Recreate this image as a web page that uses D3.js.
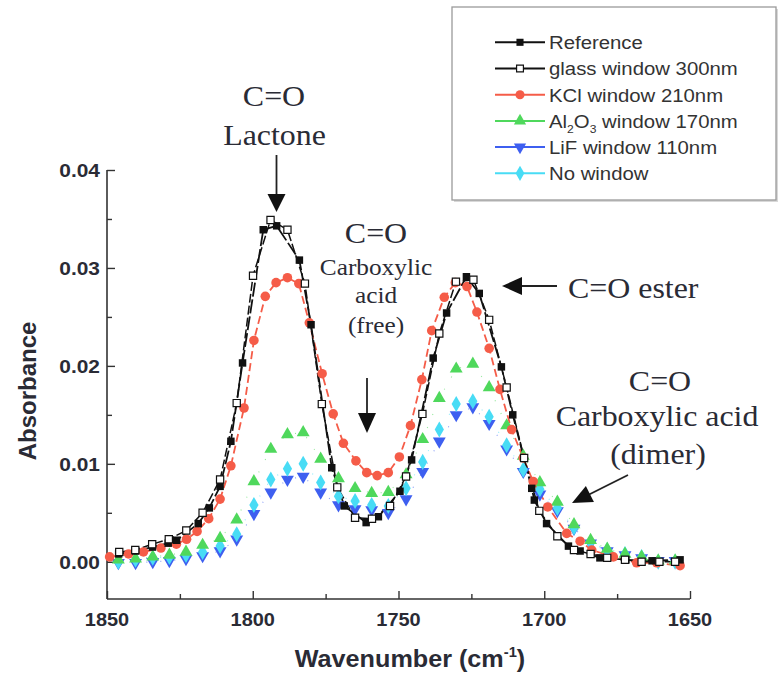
<!DOCTYPE html>
<html><head><meta charset="utf-8">
<script src="https://cdn.jsdelivr.net/npm/d3@7/dist/d3.min.js"></script>
<style>body{margin:0;background:#fff}</style>
</head><body>
<svg id="c" width="783" height="675"></svg>
<script>
// ---------------- data ----------------
const xTicks = [1850, 1800, 1750, 1700, 1650];
const xMinorTicks = [1825, 1775, 1725, 1675];
const yTicks = [0.00, 0.01, 0.02, 0.03, 0.04];
const yMinorTicks = [0.005, 0.015, 0.025, 0.035];
const seriesNames = ["Reference", "glass window 300nm", "KCl window 210nm", "Al2O3 window 170nm", "LiF window 110nm", "No window"];

const refWn  = [1846.0,1840.2,1834.4,1829.0,1826.1,1818.7,1814.9,1811.2,1807.5,1803.5,1796.4,1791.8,1784.0,1780.0,1772.9,1768.6,1761.1,1756.9,1749.5,1745.5,1738.1,1733.5,1726.7,1722.3,1714.7,1710.8,1704.3,1703.4,1699.2,1691.7,1687.7,1680.9,1672.0,1663.0,1653.4];
const refAbs = [0.0008,0.0011,0.0015,0.0019,0.0022,0.0039,0.0055,0.0077,0.0123,0.0203,0.0339,0.0343,0.0308,0.0242,0.0096,0.0057,0.0040,0.0046,0.0072,0.0104,0.0208,0.0254,0.0291,0.0274,0.0199,0.0150,0.0075,0.0063,0.0039,0.0016,0.0011,0.0004,0.0002,0.0001,0.0002];

const glassWn  = [1845.8,1840.3,1834.5,1828.8,1822.8,1817.2,1811.2,1805.5,1799.9,1793.9,1788.1,1782.1,1776.3,1771.0,1764.9,1759.1,1752.9,1747.4,1741.8,1736.0,1730.3,1724.3,1718.9,1712.9,1706.9,1701.7,1695.5,1689.8,1684.1,1678.4,1672.3,1666.6,1660.5,1655.1];
const glassAbs = [0.0010,0.0012,0.0018,0.0023,0.0032,0.0050,0.0084,0.0162,0.0292,0.0349,0.0339,0.0284,0.0161,0.0076,0.0045,0.0044,0.0057,0.0087,0.0151,0.0233,0.0286,0.0288,0.0247,0.0178,0.0106,0.0052,0.0026,0.0012,0.0008,0.0004,0.0002,0.0000,0.0000,0.0000];

const kclWn  = [1849.1,1842.6,1837.5,1831.5,1826.2,1822.7,1819.1,1815.1,1811.2,1807.5,1803.0,1799.6,1795.7,1792.0,1788.1,1784.2,1780.6,1776.2,1772.4,1768.9,1764.6,1760.9,1757.3,1753.5,1749.7,1745.9,1742.0,1738.6,1734.3,1730.5,1726.5,1723.1,1718.9,1715.2,1711.2,1707.2,1703.8,1698.8,1692.3,1687.7,1683.7,1676.3,1668.3,1661.4,1653.4];
const kclAbs = [0.0005,0.0008,0.0010,0.0014,0.0018,0.0023,0.0031,0.0044,0.0064,0.0098,0.0157,0.0226,0.0271,0.0285,0.0290,0.0284,0.0244,0.0192,0.0151,0.0121,0.0103,0.0091,0.0088,0.0091,0.0107,0.0139,0.0186,0.0236,0.0270,0.0285,0.0281,0.0255,0.0218,0.0176,0.0135,0.0106,0.0082,0.0056,0.0029,0.0021,0.0012,0.0005,-0.0001,-0.0001,-0.0004];

const gridWn = [1846.1,1840.2,1834.3,1828.6,1822.9,1817.2,1811.2,1805.5,1799.6,1793.8,1788.1,1782.7,1776.7,1770.6,1764.9,1759.2,1753.5,1747.4,1741.7,1736.0,1730.2,1724.5,1718.9,1712.9,1707.2,1701.5,1695.5,1689.8,1684.1,1678.4,1672.3,1666.6,1660.9,1655.1];
const al2o3Abs = [0.0002,0.0003,0.0005,0.0007,0.0010,0.0017,0.0024,0.0043,0.0082,0.0115,0.0130,0.0132,0.0105,0.0085,0.0075,0.0070,0.0071,0.0089,0.0125,0.0167,0.0197,0.0202,0.0178,0.0139,0.0108,0.0081,0.0061,0.0038,0.0022,0.0013,0.0008,0.0005,0.0001,0.0001];
const lifAbs   = [-0.0001,-0.0001,0.0000,0.0001,0.0003,0.0006,0.0011,0.0023,0.0049,0.0071,0.0084,0.0087,0.0071,0.0058,0.0054,0.0053,0.0050,0.0064,0.0092,0.0123,0.0150,0.0158,0.0141,0.0115,0.0092,0.0069,0.0052,0.0034,0.0019,0.0011,0.0007,0.0004,0.0001,0.0001];
const noWinAbs = [0.0000,0.0002,0.0004,0.0005,0.0007,0.0010,0.0016,0.0028,0.0058,0.0084,0.0095,0.0100,0.0081,0.0067,0.0062,0.0058,0.0057,0.0075,0.0102,0.0135,0.0161,0.0164,0.0148,0.0119,0.0094,0.0074,0.0055,0.0035,0.0020,0.0012,0.0008,0.0005,0.0000,0.0000];

// ---------------- styles ----------------
const styles = {
  "Reference":          {color:"#111", fill:"#111", symbol:d3.symbolSquare, size:56, rot:0, dash:"14,3", lw:1.8, op:1},
  "glass window 300nm": {color:"#111", fill:"#fff", symbol:d3.symbolSquare, size:52, rot:0, dash:"9,3", lw:1.5, op:1},
  "KCl window 210nm":   {color:"#f55c48", fill:"#f55c48", symbol:d3.symbolCircle, size:72, rot:0, dash:"8,4", lw:1.8, op:1},
  "Al2O3 window 170nm": {color:"#4fd85c", fill:"#4fd85c", symbol:d3.symbolTriangle, size:72, rot:0, dash:"1,13", lw:1.1, op:0.6},
  "LiF window 110nm":   {color:"#3e5ff0", fill:"#3e5ff0", symbol:d3.symbolTriangle, size:72, rot:180, dash:"1,13", lw:1.1, op:0.6},
  "No window":          {color:"#48dcf5", fill:"#48dcf5", symbol:d3.symbolDiamond, size:74, rot:0, dash:"1,13", lw:1.1, op:0.6}
};

const series = [
  {name:seriesNames[4], wn:gridWn, abs:lifAbs},
  {name:seriesNames[5], wn:gridWn, abs:noWinAbs},
  {name:seriesNames[3], wn:gridWn, abs:al2o3Abs},
  {name:seriesNames[2], wn:kclWn, abs:kclAbs},
  {name:seriesNames[0], wn:refWn, abs:refAbs},
  {name:seriesNames[1], wn:glassWn, abs:glassAbs}
];

// ---------------- layout ----------------
const svg = d3.select("#c");
const pLeft = 107, pRight = 690, pTop = 170, pBottom = 599;
const x = d3.scaleLinear().domain([1850, 1650]).range([pLeft, pRight]);
const y = d3.scaleLinear().domain([-0.0038, 0.04]).range([pBottom, pTop]);
const axisColor = "#333";
const textColor = "#2a2b35";

function stext(g, str, tx, ty, opts) {
  const t = g.append("text")
    .attr("transform", `translate(${tx},${ty})` + (opts.rot ? ` rotate(${opts.rot})` : "") + ` scale(${opts.k || 1},1)`)
    .attr("text-anchor", opts.anchor || "start")
    .style("font-family", opts.family || "'Liberation Sans', Arial, sans-serif")
    .style("font-size", opts.size + "px")
    .style("font-weight", opts.weight || "normal")
    .attr("fill", opts.fill || textColor)
    .text(str);
  return t;
}

// Axes
const axes = svg.append("g");
const xAxis = d3.axisBottom(x).tickValues(xTicks).tickSize(-8).tickFormat("");
const yAxis = d3.axisLeft(y).tickValues(yTicks).tickSize(-8).tickFormat("");
const gx = axes.append("g").attr("transform", `translate(0,${pBottom})`).call(xAxis);
gx.select(".domain").attr("d", `M${pLeft},0H${pRight}`);
gx.append("g").call(d3.axisBottom(x).tickValues(xMinorTicks).tickSize(-5).tickFormat("")).select(".domain").remove();
const gy = axes.append("g").attr("transform", `translate(${pLeft},0)`).call(yAxis);
gy.select(".domain").attr("d", `M0,${pTop}V${pBottom}`);
gy.append("g").call(d3.axisLeft(y).tickValues(yMinorTicks).tickSize(-5).tickFormat("")).select(".domain").remove();
axes.selectAll("path.domain").attr("stroke", axisColor).attr("stroke-width", 1.6);
axes.selectAll(".tick line").attr("stroke", axisColor).attr("stroke-width", 1.4);

const lab = svg.append("g");
xTicks.forEach(v => stext(lab, String(v), x(v), 626, {anchor:"middle", size:19, weight:"bold", k:1.05}));
yTicks.forEach(v => stext(lab, d3.format(".2f")(v), 100, y(v) + 7, {anchor:"end", size:19, weight:"bold", k:1.1}));

// axis titles
const ttl = lab.append("text")
  .attr("transform", `translate(410,667) scale(1.05,1)`)
  .attr("text-anchor", "middle")
  .style("font-family", "'Liberation Sans', Arial, sans-serif")
  .style("font-size", "24px").style("font-weight", "bold").attr("fill", textColor);
ttl.append("tspan").text("Wavenumber (cm");
ttl.append("tspan").text("-1").style("font-size", "14px").attr("dy", -10);
ttl.append("tspan").text(")").attr("dy", 10);
stext(lab, "Absorbance", 36, 391, {anchor:"middle", size:24, weight:"bold", rot:-90, k:1.0});

// ---------------- series ----------------
const plot = svg.append("g");
series.forEach(s => {
  const st = styles[s.name];
  const pts = s.wn.map((w, i) => [w, s.abs[i]]);
  const line = d3.line().x(d => x(d[0])).y(d => y(d[1]));
  plot.append("path").datum(pts)
    .attr("d", line).attr("fill", "none")
    .attr("stroke", st.color).attr("stroke-width", st.lw)
    .attr("stroke-opacity", st.op)
    .attr("stroke-dasharray", st.dash);
});
series.forEach(s => {
  const st = styles[s.name];
  const pts = s.wn.map((w, i) => [w, s.abs[i]]);
  const sym = d3.symbol().type(st.symbol).size(st.size);
  plot.append("g").selectAll("path").data(pts).join("path")
    .attr("d", sym)
    .attr("transform", d => `translate(${x(d[0])},${y(d[1])})` + (st.rot ? ` rotate(${st.rot})` : ""))
    .attr("fill", st.fill)
    .attr("stroke", st.fill === "#fff" ? st.color : "none")
    .attr("stroke-width", 1.2);
});

// ---------------- legend ----------------
const leg = svg.append("g");
leg.append("rect").attr("x", 454).attr("y", 9).attr("width", 324).attr("height", 193).attr("fill", "#d8d8d8");
leg.append("rect").attr("x", 452).attr("y", 7).attr("width", 324).attr("height", 193)
  .attr("fill", "#fff").attr("stroke", "#9a9a9a").attr("stroke-width", 1.3);
seriesNames.forEach((n, i) => {
  const st = styles[n];
  const cy = 42.3 + i * 26.2;
  leg.append("line").attr("x1", 495).attr("x2", 545).attr("y1", cy).attr("y2", cy)
    .attr("stroke", st.color).attr("stroke-width", 2);
  leg.append("path").attr("d", d3.symbol().type(st.symbol).size(st.size * 0.9)())
    .attr("transform", `translate(520,${cy})` + (st.rot ? ` rotate(${st.rot})` : ""))
    .attr("fill", st.fill).attr("stroke", st.fill === "#fff" ? st.color : "none").attr("stroke-width", 1.2);
  const t = leg.append("text")
    .attr("transform", `translate(549,${cy + 6.8}) scale(1.1,1)`)
    .style("font-family", "'Liberation Sans', Arial, sans-serif")
    .style("font-size", "18.5px").attr("fill", "#333");
  if (n.startsWith("Al2O3")) {
    t.append("tspan").text("Al");
    t.append("tspan").text("2").style("font-size", "11px").attr("dy", 5);
    t.append("tspan").text("O").attr("dy", -5);
    t.append("tspan").text("3").style("font-size", "11px").attr("dy", 5);
    t.append("tspan").text(" window 170nm").attr("dy", -5);
  } else {
    t.text(n);
  }
});

// ---------------- annotations ----------------
const ann = svg.append("g");
const serif = "'Liberation Serif', 'Times New Roman', serif";
const annTexts = [
  ["C=O", 274, 106, 29], ["Lactone", 274.5, 145, 29],
  ["C=O", 376, 243, 29], ["Carboxylic", 376, 275, 23], ["acid", 376, 303, 23], ["(free)", 376, 333, 23],
  ["C=O", 660, 391, 29], ["Carboxylic acid", 657, 426, 29], ["(dimer)", 658, 464, 29]
];
annTexts.forEach(a => stext(ann, a[0], a[1], a[2], {anchor:"middle", size:a[3], family:serif, k:1.1}));
stext(ann, "C=O ester", 568, 298, {anchor:"start", size:29, family:serif, k:1.1});

function arrow(x1, y1, x2, y2, hl, hw) {
  const dx = x2 - x1, dy = y2 - y1, L = Math.hypot(dx, dy);
  const ux = dx / L, uy = dy / L;
  const bx = x2 - ux * hl, by = y2 - uy * hl;
  ann.append("line").attr("x1", x1).attr("y1", y1).attr("x2", bx + ux * 2).attr("y2", by + uy * 2)
    .attr("stroke", "#222").attr("stroke-width", 1.8);
  ann.append("path")
    .attr("d", `M${x2},${y2}L${bx - uy * hw},${by + ux * hw}L${bx + uy * hw},${by - ux * hw}Z`)
    .attr("fill", "#111");
}
arrow(276.5, 155, 276.5, 212, 18, 9);
arrow(367, 378, 367, 433, 20, 9);
arrow(557, 286, 502, 286, 20, 9);
arrow(628, 475, 572, 503, 20, 9);
</script>
</body></html>
